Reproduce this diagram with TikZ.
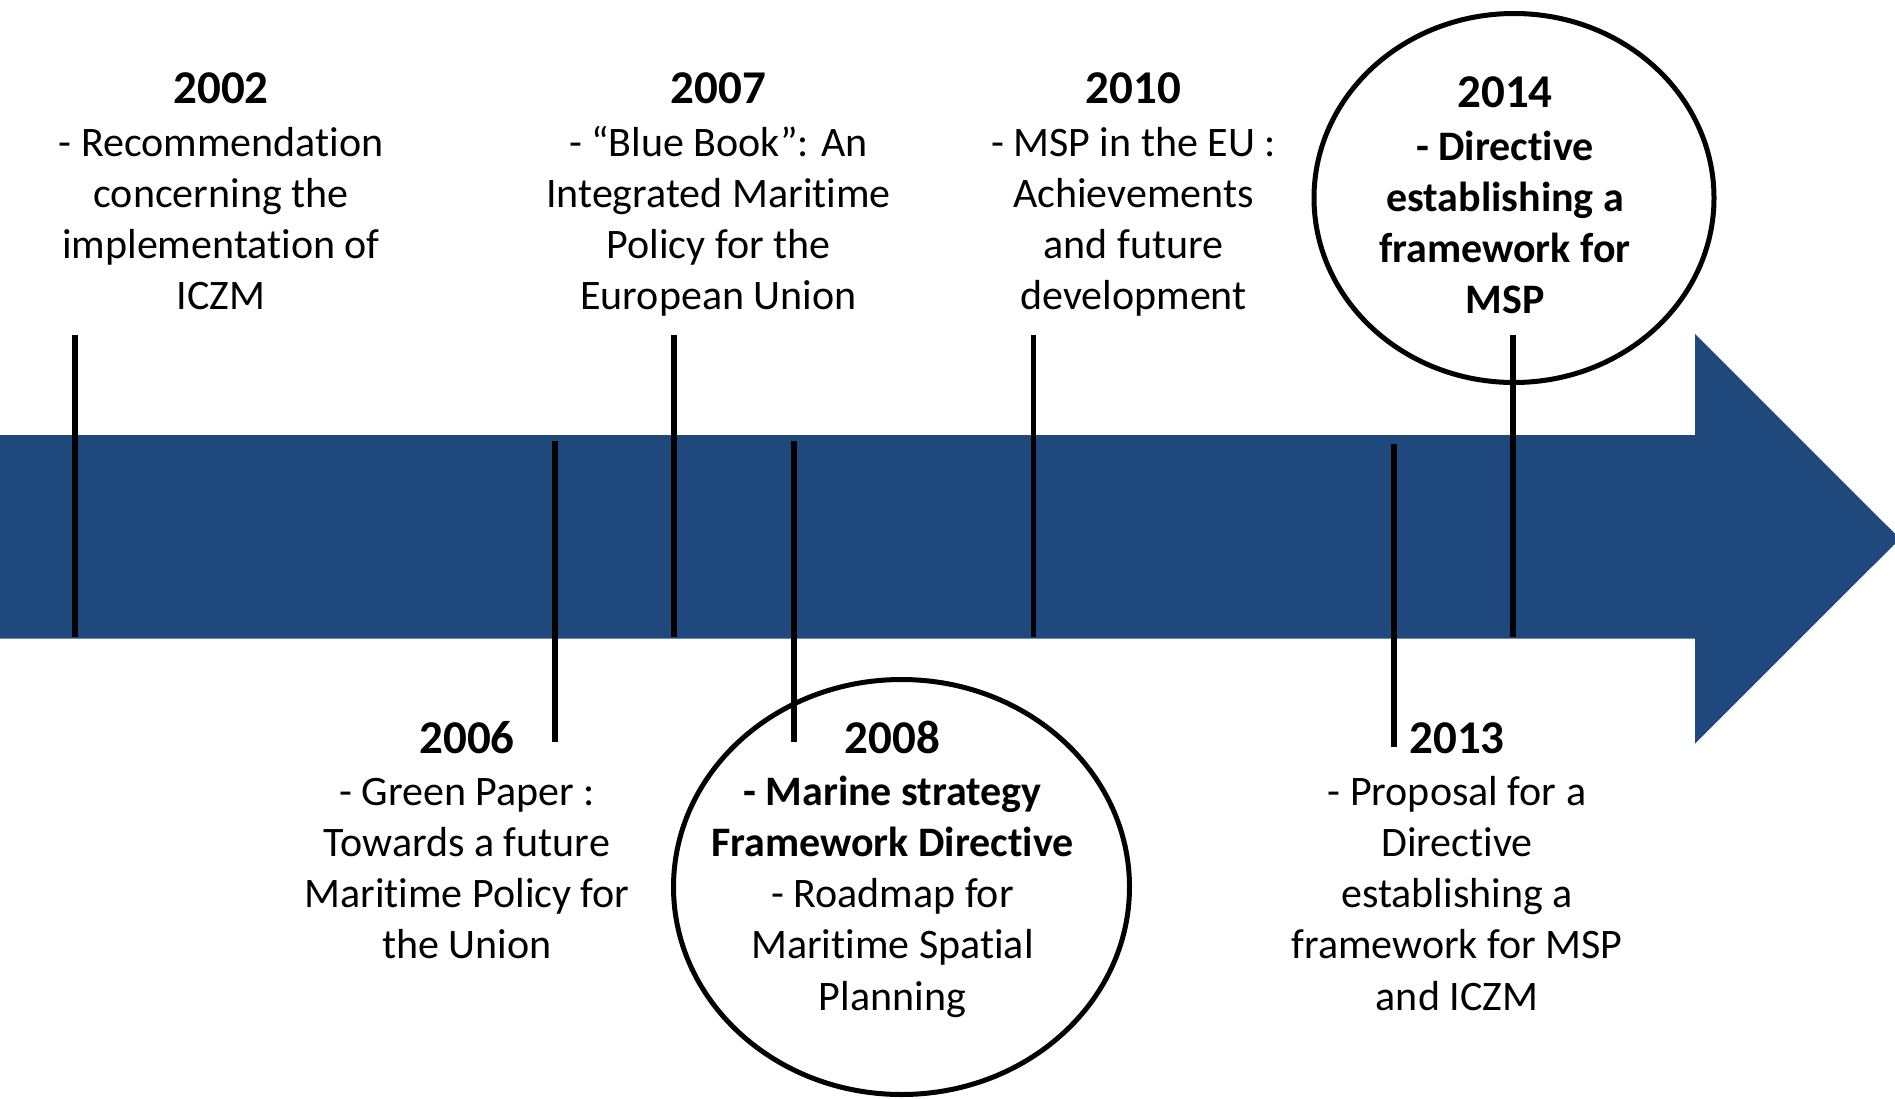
\documentclass[tikz,border=0pt]{standalone}
\usepackage{fontspec}
\setmainfont{Carlito}[Ligatures=NoCommon]
\usetikzlibrary{shapes.geometric}
\definecolor{bandblue}{HTML}{1F497D}
\tikzset{
  year/.style={anchor=base,inner sep=0pt,font=\fontsize{47}{56}\selectfont\bfseries},
  body/.style={anchor=base,inner sep=0pt,font=\fontsize{42}{51.3}\selectfont},
  tick/.style={line width=5.5pt,black},
  ring/.style={ellipse,draw=black,line width=5pt,inner sep=0pt}
}
\newcommand{\lines}[1]{\begin{tabular}[t]{@{}c@{}}#1\end{tabular}}
\begin{document}
\begin{tikzpicture}[x=1pt,y=-1pt]
\useasboundingbox (0,0) rectangle (1895,1098);
\begin{scope}
\clip (0,0) rectangle (1895,1098);
\fill[bandblue] (0,435) -- (1695,435) -- (1695,334) -- (1900,538.75) -- (1695,743.5) -- (1695,638.5) -- (0,638.5) -- cycle;
\end{scope}
% tick end points
\coordinate (k02a) at (75,335);   \coordinate (k02b) at (75,637);
\coordinate (k06a) at (555,441);  \coordinate (k06b) at (555,742);
\coordinate (k07a) at (674,335);  \coordinate (k07b) at (674,637);
\coordinate (k08a) at (794,441);  \coordinate (k08b) at (794,742);
\coordinate (k10a) at (1033.5,335); \coordinate (k10b) at (1033.5,637);
\coordinate (k13a) at (1394,443.5); \coordinate (k13b) at (1394,747);
\coordinate (k14a) at (1513,335); \coordinate (k14b) at (1513,637);
\draw[tick] (k02a) -- (k02b);
\draw[tick] (k06a) -- (k06b);
\draw[tick] (k07a) -- (k07b);
\draw[tick] (k08a) -- (k08b);
\draw[tick] (k10a) -- (k10b);
\draw[tick] (k13a) -- (k13b);
\draw[tick] (k14a) -- (k14b);
% rings
\node[ring,minimum width=400pt,minimum height=369pt] (c14) at (1514,198) {};
\node[ring,minimum width=456pt,minimum height=415pt] (c08) at (901.5,887) {};
% top texts
\node[year] (y02) at (221,103.5) {2002};
\node[body] (t02) at (221,156) {\lines{- Recommendation\\concerning the\\implementation of\\ICZM}};
\node[year] (y07) at (718.5,103.5) {2007};
\node[body] (t07) at (718.5,156) {\lines{- “Blue Book”: An\\Integrated Maritime\\Policy for the\\European Union}};
\node[year] (y10) at (1133.5,103.5) {2010};
\node[body] (t10) at (1133.5,156) {\lines{- MSP in the EU :\\Achievements\\and future\\development}};
\node[year] (y14) at (1505,107) {2014};
\node[body,font=\fontsize{42}{51.3}\selectfont\bfseries] (t14) at (1505,160) {\lines{- Directive\\establishing a\\framework for\\MSP}};
% bottom texts
\node[year] (y06) at (467,753) {2006};
\node[body] (t06) at (467,805) {\lines{- Green Paper :\\Towards a future\\Maritime Policy for\\the Union}};
\node[year] (y08) at (892.5,753) {2008};
\node[body] (t08) at (892.5,805) {\lines{\textbf{- Marine strategy}\\\textbf{Framework Directive}\\- Roadmap for\\Maritime Spatial\\Planning}};
\node[year] (y13) at (1457,753) {2013};
\node[body] (t13) at (1457,805) {\lines{- Proposal for a\\Directive\\establishing a\\framework for MSP\\and ICZM}};
\end{tikzpicture}
\end{document}
